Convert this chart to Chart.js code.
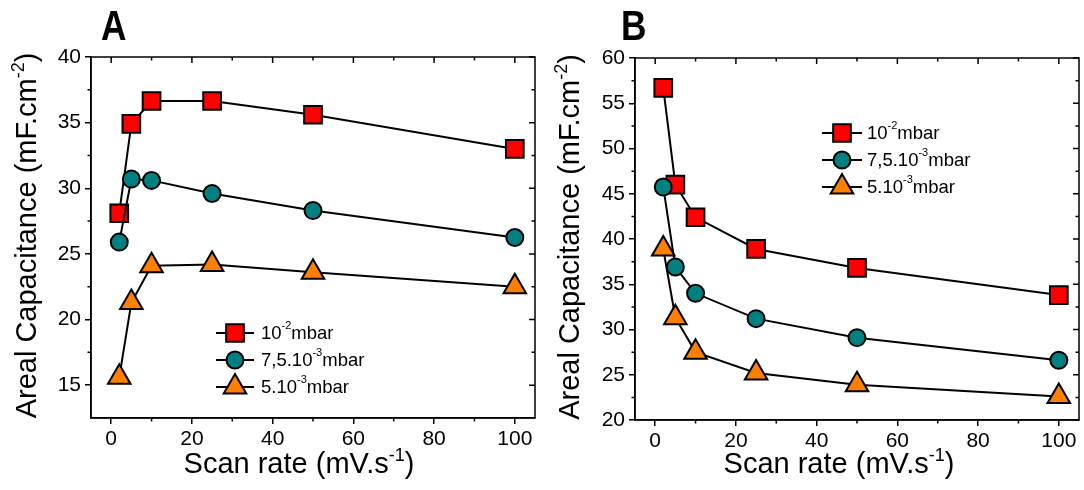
<!DOCTYPE html>
<html><head><meta charset="utf-8">
<script src="https://cdn.jsdelivr.net/npm/chart.js@4/dist/chart.umd.min.js"></script>
<style>
html,body{margin:0;padding:0;background:#fff;}
#wrap{position:relative;width:1084px;height:490px;overflow:hidden;}
.pane{position:absolute;top:0;height:490px;}
canvas{display:block;}
</style></head><body>
<div id="wrap">
<div class="pane" style="left:0;width:540px"><canvas id="cA" width="540" height="490"></canvas></div>
<div class="pane" style="left:540px;width:544px"><canvas id="cB" width="544" height="490"></canvas></div>
</div>
<script>
// ---- data ----
const scanRates = [2, 5, 10, 25, 50, 100];
const seriesLabels = ['10⁻²mbar', '7,5.10⁻³mbar', '5.10⁻³mbar'];
const panelLetters = ['A', 'B'];
const xTitle = 'Scan rate (mV.s⁻¹)';
const yTitle = 'Areal Capacitance (mF.cm⁻²)';

const capA_1e2 = [28.1, 34.9, 36.65, 36.65, 35.6, 33.0];
const capA_75e3 = [25.9, 30.7, 30.6, 29.6, 28.3, 26.25];
const capA_5e3 = [15.6, 21.3, 24.1, 24.2, 23.6, 22.5];

const capB_1e2 = [56.7, 46.0, 42.4, 38.9, 36.8, 33.8];
const capB_75e3 = [45.75, 36.9, 34.0, 31.2, 29.1, 26.6];
const capB_5e3 = [38.9, 31.3, 27.5, 25.2, 23.9, 22.6];

const xTicks = [0, 20, 40, 60, 80, 100];
const xMinorTicks = [10, 30, 50, 70, 90];
const yTicksA = [15, 20, 25, 30, 35, 40];
const yMinorTicksA = [17.5, 22.5, 27.5, 32.5, 37.5];
const yTicksB = [20, 25, 30, 35, 40, 45, 50, 55, 60];
const yMinorTicksB = [22.5, 27.5, 32.5, 37.5, 42.5, 47.5, 52.5, 57.5];

// ---- styles ----
const fills = ['#FF0000', '#008080', '#FF8000'];
const styles = ['rect', 'circle', 'triangle'];
const radii = [12.5, 8.5, 13];
const FONT = '"Liberation Sans", Arial, sans-serif';

function supParts(s) {
  const map = {'⁻': '-', '¹': '1', '²': '2', '³': '3'};
  const parts = [];
  for (const ch of s) {
    const sup = ch in map;
    const c = sup ? map[ch] : ch;
    if (parts.length && parts[parts.length - 1].sup === sup) parts[parts.length - 1].t += c;
    else parts.push({t: c, sup});
  }
  return parts;
}
function richWidth(ctx, s, size) {
  let w = 0;
  for (const p of supParts(s)) {
    ctx.font = (p.sup ? Math.round(size * 0.62) : size) + 'px ' + FONT;
    w += ctx.measureText(p.t).width;
  }
  return w;
}
function drawRich(ctx, s, x, y, size) {
  let cx = x;
  ctx.textAlign = 'left';
  for (const p of supParts(s)) {
    ctx.font = (p.sup ? Math.round(size * 0.62) : size) + 'px ' + FONT;
    ctx.fillText(p.t, cx, p.sup ? y - size * 0.42 : y);
    cx += ctx.measureText(p.t).width;
  }
}
function drawMarker(ctx, style, r, x, y, fill) {
  ctx.save();
  ctx.fillStyle = fill; ctx.strokeStyle = '#000'; ctx.lineWidth = 2;
  if (Chart.helpers && Chart.helpers.drawPoint) {
    Chart.helpers.drawPoint(ctx, {pointStyle: style, radius: r, rotation: 0, borderWidth: 2}, x, y);
  }
  ctx.restore();
}

const framePlugin = {
  id: 'frame',
  beforeDatasetsDraw(chart, args, opts) {
    const {ctx, chartArea: a} = chart;
    const xs = chart.scales.x, ys = chart.scales.y;
    ctx.save();
    ctx.strokeStyle = '#000'; ctx.lineWidth = 1.5;
    ctx.strokeRect(a.left, a.top, a.right - a.left, a.bottom - a.top);
    ctx.beginPath();
    for (const v of xTicks) { const px = xs.getPixelForValue(v); ctx.moveTo(px, a.top); ctx.lineTo(px, a.top + 6); }
    for (const v of xMinorTicks) { const px = xs.getPixelForValue(v);
      ctx.moveTo(px, a.top); ctx.lineTo(px, a.top + 3.5);
      ctx.moveTo(px, a.bottom); ctx.lineTo(px, a.bottom + 3.5); }
    for (const v of opts.yMajor) { const py = ys.getPixelForValue(v); ctx.moveTo(a.right, py); ctx.lineTo(a.right - 6, py); }
    for (const v of opts.yMinor) { const py = ys.getPixelForValue(v);
      ctx.moveTo(a.right, py); ctx.lineTo(a.right - 3.5, py);
      ctx.moveTo(a.left, py); ctx.lineTo(a.left - 3.5, py); }
    ctx.stroke();
    ctx.restore();
  },
  afterDraw(chart, args, opts) {
    const {ctx, chartArea: a} = chart;
    // panel letter
    ctx.save();
    ctx.fillStyle = '#000';
    ctx.textBaseline = 'alphabetic';
    ctx.translate(opts.letterX, opts.letterY);
    ctx.scale(0.84, 1);
    ctx.font = 'bold 42px ' + FONT;
    ctx.fillText(opts.letter, 0, 0);
    ctx.restore();
    // axis titles
    ctx.save();
    ctx.fillStyle = '#000';
    ctx.textBaseline = 'alphabetic';
    const xw = richWidth(ctx, xTitle, 29);
    drawRich(ctx, xTitle, opts.xTitleCx - xw / 2, 473, 29);
    const yw = richWidth(ctx, yTitle, 29);
    ctx.translate(opts.yTitleBase, (a.top + a.bottom) / 2 - 2);
    ctx.rotate(-Math.PI / 2);
    drawRich(ctx, yTitle, -yw / 2, 0, 29);
    ctx.restore();
    // legend
    ctx.save();
    ctx.textBaseline = 'middle';
    ctx.fillStyle = '#000';
    const L = opts.legend;
    chart.data.datasets.forEach((ds, i) => {
      const y = L.rows[i];
      ctx.strokeStyle = '#000'; ctx.lineWidth = 2;
      ctx.beginPath(); ctx.moveTo(L.x1, y); ctx.lineTo(L.x2, y); ctx.stroke();
      drawMarker(ctx, ds.pointStyle, ds.pointRadius, L.mx, y, ds.pointBackgroundColor);
      ctx.fillStyle = '#000';
      drawRich(ctx, ds.label, L.tx, y + 1, 18.5);
    });
    ctx.restore();
  }
};

function makeChart(id, series, yMin, yMax, yMajor, yMinor, cfg) {
  const datasets = series.map((vals, i) => ({
    label: seriesLabels[i],
    data: scanRates.map((x, j) => ({x, y: vals[j]})),
    borderColor: '#000',
    borderWidth: 2,
    backgroundColor: fills[i],
    pointBackgroundColor: fills[i],
    pointBorderColor: '#000',
    pointBorderWidth: 2,
    pointStyle: styles[i],
    pointRadius: radii[i],
    pointHoverRadius: radii[i],
    tension: 0,
    fill: false,
    order: 3 - i,
    clip: false
  }));
  return new Chart(document.getElementById(id), {
    type: 'line',
    data: {datasets},
    plugins: [framePlugin],
    options: {
      responsive: false,
      animation: false,
      devicePixelRatio: 1,
      layout: {autoPadding: false, padding: {left: 0, right: 5, top: cfg.top, bottom: 0}},
      plugins: {
        legend: {display: false},
        tooltip: {enabled: false},
        frame: {yMajor, yMinor, letter: cfg.letter, letterX: cfg.letterX, letterY: 40, legend: cfg.legend,
                xTitleCx: cfg.xTitleCx, yTitleBase: cfg.yTitleBase}
      },
      scales: {
        x: {
          type: 'linear', min: -5, max: 105,
          afterBuildTicks: s => { s.ticks = xTicks.map(v => ({value: v})); },
          afterFit: s => { s.height = cfg.xh; s.paddingLeft = 0; s.paddingRight = 0; },
          border: {display: true, color: '#000', width: 1.5},
          grid: {drawOnChartArea: false, drawTicks: true, tickLength: 6, color: '#000', lineWidth: 1.5},
          ticks: {color: '#000', padding: 3, font: {family: FONT, size: 21}, maxRotation: 0},
          title: {display: false, text: xTitle}
        },
        y: {
          type: 'linear', min: yMin, max: yMax,
          afterBuildTicks: s => { s.ticks = yMajor.map(v => ({value: v})); },
          afterFit: s => { s.width = cfg.yw; s.paddingTop = 0; s.paddingBottom = 0; },
          border: {display: true, color: '#000', width: 1.5},
          grid: {drawOnChartArea: false, drawTicks: true, tickLength: 6, color: '#000', lineWidth: 1.5},
          ticks: {color: '#000', padding: 4, font: {family: FONT, size: 21}},
          title: {display: false, text: yTitle}
        }
      }
    }
  });
}

makeChart('cA', [capA_1e2, capA_75e3, capA_5e3], 12.5, 40, yTicksA, yMinorTicksA,
  {top: 57, xh: 72, yw: 91, letter: panelLetters[0], letterX: 101, xTitleCx: 299, yTitleBase: 36,
   legend: {x1: 216, x2: 254, mx: 235, tx: 261, rows: [333, 360, 387]}});
makeChart('cB', [capB_1e2, capB_75e3, capB_5e3], 20, 60, yTicksB, yMinorTicksB,
  {top: 58, xh: 70, yw: 95, letter: panelLetters[1], letterX: 81, xTitleCx: 299, yTitleBase: 39,
   legend: {x1: 282, x2: 322, mx: 302, tx: 327, rows: [133, 160, 187]}});
</script>
</body></html>
